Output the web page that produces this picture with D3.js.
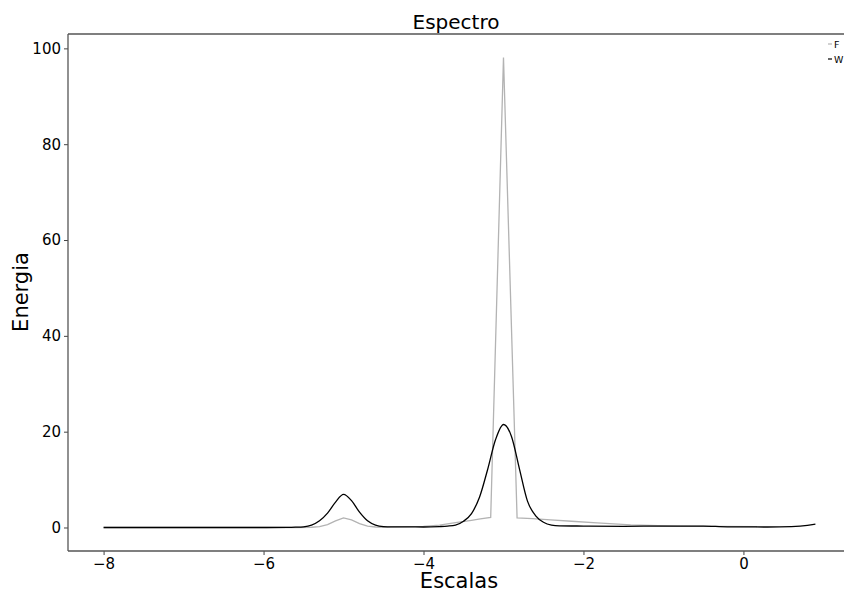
<!DOCTYPE html>
<html>
<head>
<meta charset="utf-8">
<script src="https://cdn.jsdelivr.net/npm/d3@7"></script>
<style>
  html, body { margin: 0; padding: 0; background: #fff; }
  svg { display: block; font-family: "DejaVu Sans", sans-serif; }
</style>
</head>
<body>
<svg id="chart" width="844" height="593"></svg>
<script>
// Spectrum samples: scale (log) positions and energy values
const fScale = [-8, -7, -6, -5.6, -5.4, -5.3, -5.2, -5.1, -5.0, -4.9, -4.8, -4.7, -4.6, -4.5, -4.4, -4.2, -4.0, -3.8, -3.6, -3.4, -3.29, -3.16, -3.0, -2.83, -2.64, -2.41, -2.15, -1.83, -1.41, -0.83, 0.17];
const fEnergy = [0, 0, 0, 0, 0.05, 0.2, 0.6, 1.4, 2.0, 1.6, 0.8, 0.3, 0.1, 0.05, 0.15, 0.2, 0.25, 0.5, 1.0, 1.5, 1.8, 2.1, 98.1, 2.0, 1.85, 1.6, 1.3, 0.95, 0.55, 0.3, 0.2];

const wScale = [-8, -7, -6, -5.7, -5.6, -5.5, -5.4, -5.3, -5.2, -5.1, -5.0, -4.9, -4.8, -4.7, -4.6, -4.5, -4.4, -4.2, -4.0, -3.8, -3.7, -3.6, -3.5, -3.4, -3.3, -3.2, -3.1, -3.0, -2.9, -2.8, -2.7, -2.6, -2.5, -2.4, -2.3, -2.0, -1.5, -1.0, -0.5, -0.2, 0, 0.3, 0.6, 0.8, 0.9];
const wEnergy = [0, 0, 0, 0.02, 0.06, 0.15, 0.5, 1.4, 3.0, 5.3, 6.9, 5.6, 3.2, 1.4, 0.5, 0.2, 0.15, 0.15, 0.1, 0.2, 0.3, 0.5, 1.3, 2.9, 6.3, 12, 18.3, 21.5, 19, 12.2, 5.5, 2.5, 1.1, 0.5, 0.35, 0.3, 0.25, 0.3, 0.3, 0.15, 0.15, 0.1, 0.2, 0.45, 0.7];

const xTicks = [-8, -6, -4, -2, 0];
const yTicks = [0, 20, 40, 60, 80, 100];
const seriesNames = ["F", "W"];
const seriesColors = ["#b3b3b3", "#000000"];

const svg = d3.select("#chart");
const plotLeft = 68, plotTop = 34, plotBottom = 551, plotRight = 851;

const x = d3.scaleLinear().domain([-8.445, 1.345]).range([plotLeft, plotRight]);
const y = d3.scaleLinear().domain([-4.905, 103.0]).range([plotBottom, plotTop]);

// clip to plot region
svg.append("defs").append("clipPath").attr("id", "plotclip")
  .append("rect").attr("x", plotLeft).attr("y", plotTop)
  .attr("width", plotRight - plotLeft).attr("height", plotBottom - plotTop);

const plot = svg.append("g").attr("clip-path", "url(#plotclip)");

const fData = fScale.map((s, i) => [s, fEnergy[i]]);
const wData = wScale.map((s, i) => [s, wEnergy[i]]);

const lineF = d3.line().x(d => x(d[0])).y(d => y(d[1]));
const lineW = d3.line().x(d => x(d[0])).y(d => y(d[1])).curve(d3.curveMonotoneX);

plot.append("path").datum(fData).attr("d", lineF)
  .attr("fill", "none").attr("stroke", seriesColors[0]).attr("stroke-width", 1.3);
plot.append("path").datum(wData).attr("d", lineW)
  .attr("fill", "none").attr("stroke", seriesColors[1]).attr("stroke-width", 1.3);

// axes
const xAxis = d3.axisBottom(x).tickValues(xTicks).tickSize(4).tickPadding(3)
  .tickFormat(d => d < 0 ? "\u2212" + Math.abs(d) : d);
const yAxis = d3.axisLeft(y).tickValues(yTicks).tickSize(4).tickPadding(3);

const gx = svg.append("g").attr("transform", `translate(0,${plotBottom})`).call(xAxis);
const gy = svg.append("g").attr("transform", `translate(${plotLeft},0)`).call(yAxis);
[gx, gy].forEach(g => {
  g.selectAll("text").attr("font-size", 15).attr("font-family", "DejaVu Sans").attr("fill", "#000");
  g.selectAll("line").attr("stroke", "#444").attr("stroke-width", 1);
  g.select(".domain").remove();
});

// spines
svg.append("line").attr("x1", plotLeft).attr("x2", plotLeft).attr("y1", plotTop).attr("y2", plotBottom)
  .attr("stroke", "#555").attr("stroke-width", 1.3);
svg.append("line").attr("x1", plotLeft).attr("x2", 844).attr("y1", plotBottom).attr("y2", plotBottom)
  .attr("stroke", "#555").attr("stroke-width", 1.3);
svg.append("line").attr("x1", plotLeft).attr("x2", 844).attr("y1", plotTop).attr("y2", plotTop)
  .attr("stroke", "#555").attr("stroke-width", 1.3);

// title and axis labels
svg.append("text").attr("x", 456).attr("y", 29).attr("text-anchor", "middle")
  .attr("font-size", 20).attr("fill", "#000").text("Espectro");
svg.append("text").attr("x", 459).attr("y", 588).attr("text-anchor", "middle")
  .attr("font-size", 21).attr("fill", "#000").text("Escalas");
svg.append("text").attr("transform", "translate(28,292) rotate(-90)").attr("text-anchor", "middle")
  .attr("font-size", 21).attr("fill", "#000").text("Energia");

// legend
const legend = svg.append("g");
seriesNames.forEach((name, i) => {
  const ly = 44 + i * 15;
  legend.append("line").attr("x1", 828).attr("x2", 832).attr("y1", ly).attr("y2", ly)
    .attr("stroke", seriesColors[i]).attr("stroke-width", 1.2);
  legend.append("text").attr("x", 834).attr("y", ly + 3.5).attr("font-size", 9.5)
    .attr("fill", "#000").text(name);
});
</script>
</body>
</html>
